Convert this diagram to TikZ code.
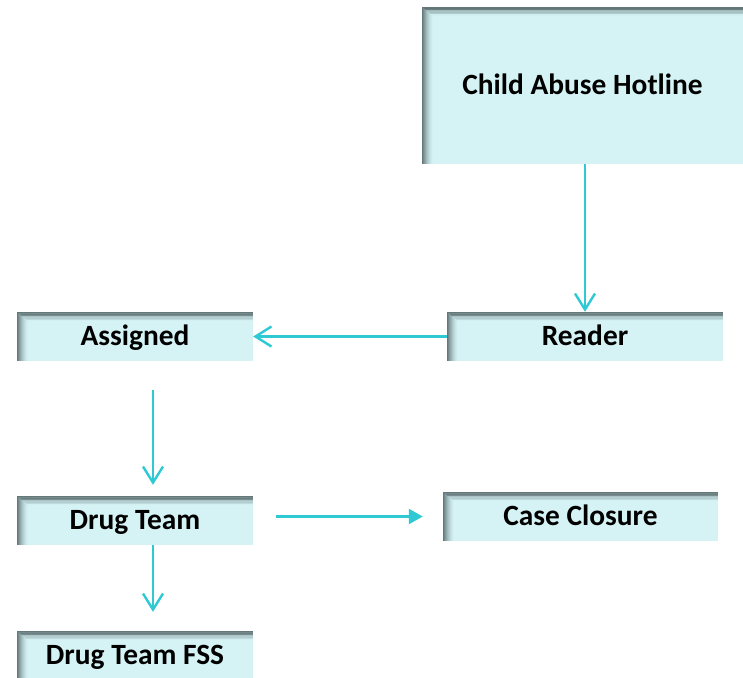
\documentclass[tikz,border=0pt]{standalone}
\usepackage{fontspec}
\setmainfont{Carlito}
\usetikzlibrary{arrows.meta}

\definecolor{boxfill}{RGB}{213,243,245}
\definecolor{edgeshade}{RGB}{88,106,108}
\definecolor{flow}{RGB}{46,201,211}

\tikzset{
  stepbox/.style={fill=boxfill, inner sep=0pt, text=black,
    font=\fontsize{29.4}{35}\selectfont\bfseries,
    % cap height only, so the capitals sit centred in the box
    text height=18.9pt, text depth=0pt,
    % soft inner shadow along the left and top edges
    path picture={
      \foreach \i [evaluate=\i as \op using {0.9*(1-\i/11)^1.6}] in {0,...,10}{
        \draw[edgeshade, line width=1.2pt, opacity=\op]
          ([xshift=\i pt+0.5pt]path picture bounding box.south west)
          |- ([yshift=-0.8*\i pt-0.5pt]path picture bounding box.north east);
      }
    }},
  flowline/.style={draw=flow, line width=2.4pt},
  openhead/.style={flowline, -{Straight Barb[length=16pt,width=20pt]}},
  solidhead/.style={flowline, -{Triangle[length=14pt,width=15pt]}},
}

\begin{document}
\begin{tikzpicture}[x=1pt, y=-1pt]
  \useasboundingbox (0,0) rectangle (743,677);

  \node[stepbox, minimum width=321pt, minimum height=157pt] (hotline) at (582.5,85.5) {Child Abuse Hotline};
  \node[stepbox, minimum width=276pt, minimum height=49pt] (reader) at (585,336.5) {Reader};
  \node[stepbox, minimum width=236pt, minimum height=49pt] (assigned) at (135,336.5) {Assigned};
  \node[stepbox, minimum width=236pt, minimum height=49pt] (drugteam) at (135,520.5) {Drug Team};
  \node[stepbox, minimum width=275pt, minimum height=49pt] (closure) at (580.5,516.5) {Case Closure};
  \node[stepbox, minimum width=236pt, minimum height=49pt] (fss) at (135,655.5) {Drug Team FSS};

  % connectors
  \draw[openhead] (hotline.south -| reader.north) -- (reader.north);
  \draw[openhead] (reader.west) -- (assigned.east);
  \draw[openhead] ([xshift=18pt,yshift=-29pt]assigned.south) -- ([xshift=18pt,yshift=11pt]drugteam.north);
  \coordinate (dtout) at ([xshift=23pt]drugteam.east);
  \draw[solidhead] (dtout |- closure.west) -- ([xshift=-20pt]closure.west);
  \draw[openhead] ([xshift=18pt]drugteam.south) -- ([xshift=18pt,yshift=19pt]fss.north);
\end{tikzpicture}
\end{document}
